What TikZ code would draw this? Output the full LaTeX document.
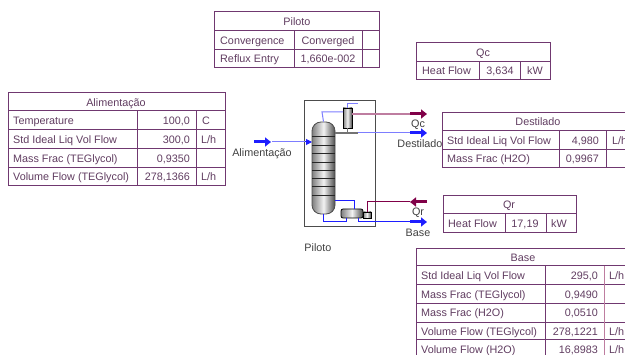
\documentclass[tikz,border=0pt]{standalone}
\usepackage{fontspec}
\setmainfont{Liberation Sans}
\usetikzlibrary{arrows.meta}
\definecolor{tabline}{RGB}{112,56,112}
\definecolor{tabtext}{RGB}{96,60,96}
\definecolor{matblue}{RGB}{30,30,255}
\definecolor{paleblue}{RGB}{125,125,255}
\definecolor{enerred}{RGB}{128,0,72}
\definecolor{palered}{RGB}{190,125,160}
\tikzset{
  every node/.style={font=\fontsize{10.8}{12}\selectfont,inner sep=0pt,text height=8pt,text depth=0pt},
  tab/.style={draw=tabline,line width=1pt},
  txt/.style={text=tabtext,anchor=west},
  val/.style={text=tabtext,anchor=east},
  mid/.style={text=tabtext,anchor=center},
  lab/.style={text=black!75,anchor=center},
  stream/.style={-{Triangle[length=6pt,width=9pt]},line width=3pt},
  pipe/.style={draw=matblue,line width=1pt},
  vessel/.style={draw=black!70,line width=.8pt,left color=black!50,right color=black!70,middle color=black!5,text height=0pt}
}
\begin{document}
\begin{tikzpicture}[x=1pt,y=-1pt]
\clip (0,0) rectangle (625,355);

% spreadsheets
\draw[tab] (214.5,12) rectangle (379.5,68);
\foreach \y in {31,50} \draw[tab] (214.5,\y)--(379.5,\y);
\foreach \x in {294,362.5} \draw[tab] (\x,31)--(\x,68);
\node (pilT) [mid] at (297,22) {Piloto};
\node (pilA) [txt] at (220,40.5) {Convergence};
\node (pilB) [mid] at (328,40.5) {Converged};
\node (pilC) [txt] at (220,59) {Reflux Entry};
\node (pilD) [mid] at (328,59) {1,660e-002};

\draw[tab] (416,42.5) rectangle (550,80);
\draw[tab] (416,62)--(550,62);
\foreach \x in {479,520} \draw[tab] (\x,62)--(\x,80);
\node (qcT) [mid] at (483,53) {Qc};
\node (qcA) [txt] at (422,71) {Heat Flow};
\node (qcB) [mid] at (500,71) {3,634};
\node (qcC) [mid] at (535,71) {kW};

\draw[tab] (8,93) rectangle (225,186);
\foreach \y in {111,130,149,168} \draw[tab] (8,\y)--(225,\y);
\foreach \x in {137,196} \draw[tab] (\x,111)--(\x,186);
\node (aliT) [mid] at (116,102.5) {Alimentação};
\node (aliA) [txt] at (13,120.5) {Temperature};
\node (aliB) [val] at (190,120.5) {100,0};
\node (aliC) [txt] at (202,120.5) {C};
\node (aliD) [txt] at (13,139.5) {Std Ideal Liq Vol Flow};
\node (aliE) [val] at (190,139.5) {300,0};
\node (aliF) [txt] at (201,139.5) {L/h};
\node (aliG) [txt] at (13,158.5) {Mass Frac (TEGlycol)};
\node (aliH) [val] at (190,158.5) {0,9350};
\node (aliI) [txt] at (13,177) {Volume Flow (TEGlycol)};
\node (aliJ) [val] at (190,177) {278,1366};
\node (aliK) [txt] at (201,177) {L/h};

\draw[tab] (442,112.5) rectangle (640,168);
\foreach \y in {131,150} \draw[tab] (442,\y)--(640,\y);
\foreach \x in {559,606} \draw[tab] (\x,131)--(\x,168);
\node (desT) [mid] at (538,122) {Destilado};
\node (desA) [txt] at (447,140.5) {Std Ideal Liq Vol Flow};
\node (desB) [val] at (599,140.5) {4,980};
\node (desC) [txt] at (612,140.5) {L/h};
\node (desD) [txt] at (447,159) {Mass Frac (H2O)};
\node (desE) [val] at (599,159) {0,9967};

\draw[tab] (443,195.5) rectangle (576,233);
\draw[tab] (443,214)--(576,214);
\foreach \x in {505,546} \draw[tab] (\x,214)--(\x,233);
\node (qrT) [mid] at (509,205) {Qr};
\node (qrA) [txt] at (448,223.5) {Heat Flow};
\node (qrB) [mid] at (525,223.5) {17,19};
\node (qrC) [mid] at (559,223.5) {kW};

\draw[tab] (416,249) rectangle (640,370);
\foreach \y in {266,285,304,323,340} \draw[tab] (416,\y)--(640,\y);
\draw[tab] (545,266)--(545,370);
\draw[tab,draw=palered] (604,266)--(604,370);
\node (basT) [mid] at (523,258) {Base};
\node (basA) [txt] at (421,276) {Std Ideal Liq Vol Flow};
\node (basB) [val] at (598,276) {295,0};
\node (basC) [txt] at (609,276) {L/h};
\node (basD) [txt] at (421,295) {Mass Frac (TEGlycol)};
\node (basE) [val] at (598,295) {0,9490};
\node (basF) [txt] at (421,313) {Mass Frac (H2O)};
\node (basG) [val] at (598,313) {0,0510};
\node (basH) [txt] at (421,332) {Volume Flow (TEGlycol)};
\node (basI) [val] at (598,332) {278,1221};
\node (basJ) [txt] at (609,332) {L/h};
\node (basK) [txt] at (421,350) {Volume Flow (H2O)};
\node (basL) [val] at (598,350) {16,8983};
\node (basM) [txt] at (609,350) {L/h};

% column
\draw[black!70,line width=1pt] (304,101) rectangle (375,227);
\node (col) [vessel,rounded corners=9pt,minimum width=23pt,minimum height=92pt] at (323.5,168) {};
\foreach \y in {136,145,153,162,170,178,186,195}
  \draw[black!85,line width=.9pt] (312,\y)--(335,\y);
\node (cond) [vessel,draw=black,minimum width=9pt,minimum height=20pt] at (347.5,118) {};
\node (reb) [vessel,draw=black,rounded corners=2pt,minimum width=22pt,minimum height=9pt] at (352,213.5) {};
\node (rebB) [vessel,draw=black,minimum width=8pt,minimum height=6pt] at (367,215) {};

% streams
\coordinate (aliIn) at (254,142);
\coordinate (aliOut) at (271,142);
\coordinate (colF) at (312,142);
\coordinate (qcIn) at (410,114);
\coordinate (qcOut) at (427,114);
\coordinate (desIn) at (410,133);
\coordinate (desOut) at (427,133);
\coordinate (qrIn) at (427,202);
\coordinate (qrOut) at (410,202);
\coordinate (basIn) at (410,222);
\coordinate (basOut) at (427,222);
\coordinate (topV) at (358,104);
\coordinate (refl) at (358,133);

\draw[stream,matblue] (aliIn)--(aliOut);
\draw[paleblue,line width=1pt] (272,142)--(305,142);
\draw[-{Triangle[length=6pt,width=6pt]},matblue,line width=1pt] (305,142)--(colF);
\draw[stream,enerred] (qcIn)--(qcOut);
\draw[stream,matblue] (desIn)--(desOut);
\draw[stream,enerred] (qrIn)--(qrOut);
\draw[stream,matblue] (basIn)--(basOut);

\draw[pipe,draw=paleblue] (col.north)--(322,112)--(343,112);
\draw[pipe,draw=paleblue] (cond.north)--(347.5,104)--(topV);
\draw[palered,line width=1.6pt] (352,114)--(qcIn);
\draw[black!55,line width=1.2pt] (cond.south)--(347.5,133);
\draw[black!55,line width=1.2pt] (335,133)--(refl);
\draw[pipe,draw=paleblue] (refl)--(desIn);
\draw[enerred,line width=1pt] (qrOut)--(367,202)--(rebB.north);
\draw[pipe] (335,201)--(354,201)--(354,209);
\draw[pipe] (323,214)--(323,222)--(346,222)--(346,218);
\draw[pipe] (358,218)--(358,222)--(basIn);

\node (aliN) [lab] at (262,152.5) {Alimentação};
\node (qcN) [lab] at (418,124) {Qc};
\node (desN) [lab] at (420,143.5) {Destilado};
\node (qrN) [lab] at (418,212) {Qr};
\node (basN) [lab] at (418,232.5) {Base};
\node (pilN) [lab] at (318,248) {Piloto};
\end{tikzpicture}
\end{document}
